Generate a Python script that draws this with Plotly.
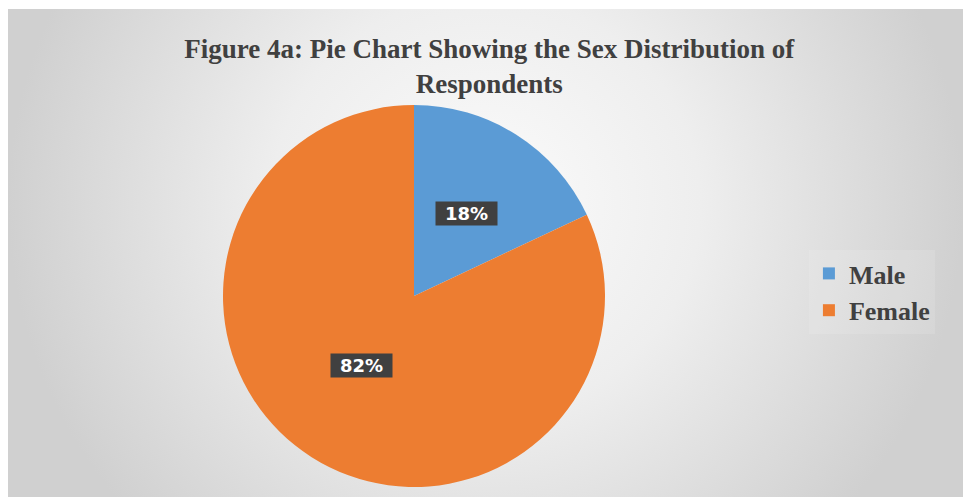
import math
import plotly.graph_objects as go

# ---- data ----
labels = ["Male", "Female"]
values = [18, 82]
colors = ["#5B9BD5", "#ED7D31"]
title_text = "Figure 4a: Pie Chart Showing the Sex Distribution of<br>Respondents"

# ---- layout constants ----
W, H = 963, 497
CX, CY, R = 414, 296, 191  # pie centre / radius in pixels
LABEL_FRAC = 0.51

fig = go.Figure()

# background panel with radial gradient
fig.add_trace(go.Scatter(
    x=[0, 1, 1, 0, 0], y=[-0.35, -0.35, 1.55, 1.55, -0.35],
    mode="lines", line=dict(width=0), fill="toself",
    fillgradient=dict(type="radial",
                      colorscale=[[0, "#fbfbfb"], [0.45, "#eeeeee"], [1, "#d0d0d0"]]),
    hoverinfo="skip", showlegend=False,
))

fig.add_trace(go.Pie(
    labels=labels, values=values, sort=False, direction="clockwise", rotation=0,
    marker=dict(colors=colors, line=dict(width=0)),
    textinfo="none", hoverinfo="label+percent",
    domain=dict(x=[(CX - R) / W, (CX + R) / W],
                y=[(H - CY - R) / H, (H - CY + R) / H]),
))

# data labels in dark boxes, placed from slice mid-angles
total = sum(values)
cum = 0
annotations = []
for v in values:
    mid = (cum + v / 2) / total * 2 * math.pi
    cum += v
    px = CX + LABEL_FRAC * R * math.sin(mid)
    py = CY - LABEL_FRAC * R * math.cos(mid)
    annotations.append(dict(
        x=px / W, y=1 - py / H, xref="paper", yref="paper",
        text=f"{round(v / total * 100)}%", showarrow=False,
        font=dict(family="DejaVu Sans", size=18, color="white", weight="bold"),
        bgcolor="#404040", width=61, height=23, borderpad=0,
    ))

fig.update_layout(
    width=W, height=H,
    margin=dict(l=0, r=0, t=0, b=0),
    paper_bgcolor="white", plot_bgcolor="rgba(0,0,0,0)",
    xaxis=dict(domain=[8 / W, 1], range=[0, 1], visible=False, fixedrange=True),
    yaxis=dict(domain=[0, 1 - 9 / H], range=[0, 1], visible=False, fixedrange=True),
    title=dict(text=title_text, x=0.508, xanchor="center", y=1 - 58 / H, yanchor="middle",
               font=dict(family="Liberation Serif", size=27, color="#404040", weight="bold")),
    legend=dict(x=0.84, xanchor="left", y=1 - 292 / H, yanchor="middle",
                font=dict(family="Liberation Serif", size=26, color="#404040", weight="bold"),
                bgcolor="rgba(255,255,255,0.12)", itemwidth=30, tracegroupgap=0),
    annotations=annotations,
    showlegend=True,
)

fig.write_html("out.html")
